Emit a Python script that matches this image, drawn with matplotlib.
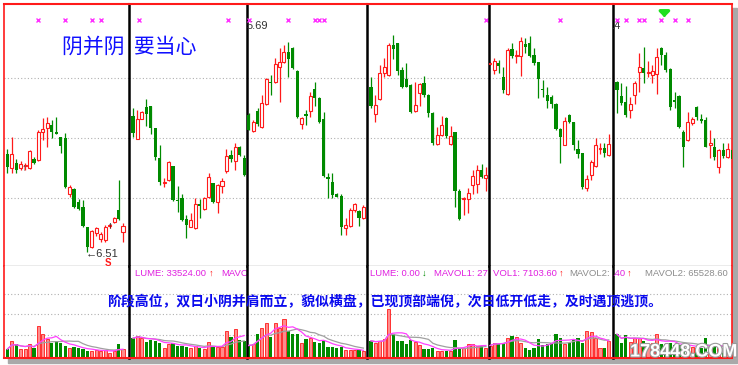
import numpy as np
import pandas as pd
import matplotlib.pyplot as plt
import matplotlib.patheffects as pe
from matplotlib.patches import Rectangle

plt.rcParams['font.family'] = ['Noto Sans CJK SC', 'DejaVu Sans']

o1 = [8.46, 8.32, 8.37, 8.32, 8.34, 8.32, 8.41, 8.40, 8.68, 8.72, 8.75, 8.68, 8.63, 8.62,
      8.06, 8.11, 7.98, 7.93, 7.73, 7.53, 7.67, 7.61, 7.60, 7.74, 7.78, 7.90, 7.68]
h1 = [8.51, 8.63, 8.41, 8.39, 8.37, 8.50, 8.43, 8.70, 8.82, 8.83, 8.80, 8.83, 8.63, 8.67,
      8.15, 8.12, 8.01, 8.00, 7.73, 7.70, 7.73, 7.68, 7.75, 7.76, 7.83, 8.20, 7.77]
l1 = [8.27, 8.27, 8.27, 8.30, 8.30, 8.31, 8.36, 8.39, 8.60, 8.53, 8.62, 8.66, 8.47, 8.12,
      8.03, 7.92, 7.90, 7.73, 7.48, 7.52, 7.64, 7.58, 7.58, 7.72, 7.77, 7.80, 7.58]
c1 = [8.33, 8.46, 8.30, 8.36, 8.35, 8.49, 8.37, 8.68, 8.71, 8.77, 8.68, 8.66, 8.54, 8.13,
      8.13, 7.93, 7.91, 7.74, 7.53, 7.69, 7.72, 7.66, 7.73, 7.74, 7.82, 7.81, 7.74]
v1 = [8.3, 16.7, 13.3, 8.3, 8.3, 13.3, 9.3, 31.7, 24.0, 18.3, 15.0, 16.7, 15.0, 11.7,
      9.3, 10.7, 9.3, 8.3, 6.7, 6.7, 7.3, 6.7, 7.3, 5.0, 6.7, 14.0, 8.3]

o2 = [8.84, 8.61, 8.81, 8.93, 8.94, 8.72, 8.42, 8.17, 8.20, 8.34, 8.00, 8.02, 7.81, 7.73,
      7.72, 7.96, 7.91, 8.03, 8.17, 7.98, 8.14, 8.29, 8.45, 8.39, 8.53, 8.42]
h2 = [8.92, 8.90, 8.89, 9.01, 8.94, 8.72, 8.55, 8.22, 8.39, 8.34, 8.14, 8.06, 7.85, 7.87,
      8.02, 8.01, 8.03, 8.27, 8.17, 8.16, 8.22, 8.51, 8.50, 8.57, 8.54, 8.45]
l2 = [8.63, 8.61, 8.81, 8.74, 8.66, 8.40, 8.15, 8.13, 8.19, 7.99, 7.88, 7.79, 7.62, 7.73,
      7.71, 7.82, 7.90, 8.02, 7.97, 7.87, 8.07, 8.27, 8.38, 8.30, 8.44, 8.24]
c2 = [8.67, 8.81, 8.88, 8.86, 8.72, 8.43, 8.18, 8.18, 8.38, 8.00, 7.99, 7.80, 7.75, 7.80,
      7.96, 7.94, 8.02, 8.23, 7.98, 8.15, 8.19, 8.44, 8.41, 8.53, 8.45, 8.25]
v2 = [19.3, 21.7, 19.3, 16.0, 17.7, 16.7, 15.0, 10.0, 14.0, 15.0, 11.7, 11.7, 10.7, 9.3,
      11.7, 9.3, 8.3, 15.7, 10.7, 10.7, 10.7, 26.7, 20.7, 28.3, 17.3, 16.7]

o3 = [8.85, 8.69, 8.89, 8.73, 8.96, 9.18, 9.18, 9.33, 9.38, 9.48, 9.52, 9.29, 8.76, 8.86,
      8.89, 9.11, 9.02, 8.81, 8.23, 8.18, 8.06, 8.04, 7.72, 7.74, 7.90, 7.89, 7.82]
h3 = [8.87, 8.80, 8.92, 9.05, 9.22, 9.25, 9.42, 9.52, 9.55, 9.58, 9.53, 9.30, 8.83, 8.90,
      9.08, 9.18, 9.03, 8.88, 8.27, 8.27, 8.07, 8.06, 7.82, 7.92, 7.97, 7.90, 7.95]
l3 = [8.70, 8.68, 8.74, 8.72, 8.95, 9.05, 9.17, 8.98, 9.37, 9.23, 9.31, 8.82, 8.71, 8.75,
      8.83, 8.94, 8.77, 8.23, 8.02, 8.02, 8.03, 7.65, 7.65, 7.73, 7.88, 7.74, 7.81]
c3 = [8.70, 8.78, 8.76, 8.97, 9.21, 9.17, 9.36, 9.38, 9.48, 9.41, 9.32, 8.83, 8.82, 8.84,
      9.04, 9.02, 8.78, 8.24, 8.21, 8.05, 8.03, 7.73, 7.75, 7.90, 7.96, 7.82, 7.93]
v3 = [12.0, 13.3, 23.3, 29.3, 35.0, 20.7, 35.0, 30.0, 38.3, 26.7, 23.3, 24.0, 15.0, 18.3,
      20.0, 16.0, 15.0, 16.7, 10.7, 10.7, 9.3, 10.7, 7.3, 7.3, 7.3, 7.3, 6.7]

o4 = [9.13, 8.86, 9.01, 9.27, 9.25, 9.55, 9.57, 9.30, 9.21, 9.15, 8.89, 9.07, 9.17, 9.05,
      8.87, 8.56, 8.65, 8.82, 8.56, 8.68, 8.09, 8.01, 8.01, 8.15, 8.16, 8.30, 8.22]
h4 = [9.23, 9.05, 9.35, 9.42, 9.57, 9.65, 9.57, 9.33, 9.37, 9.16, 9.18, 9.17, 9.24, 9.06,
      8.88, 8.73, 8.84, 8.83, 8.74, 8.68, 8.11, 8.03, 8.12, 8.30, 8.35, 8.36, 8.33]
l4 = [8.92, 8.78, 9.00, 9.23, 9.24, 9.41, 9.25, 9.12, 9.13, 8.87, 8.88, 8.94, 9.03, 8.83,
      8.55, 8.55, 8.64, 8.62, 8.55, 7.93, 7.80, 7.85, 7.87, 8.06, 8.07, 8.22, 8.09]
c4 = [8.94, 8.95, 9.27, 9.33, 9.55, 9.51, 9.29, 9.13, 9.13, 8.88, 8.95, 9.16, 9.05, 8.87,
      8.57, 8.65, 8.75, 8.64, 8.64, 8.09, 7.81, 8.02, 8.07, 8.24, 8.30, 8.23, 8.25]
v4 = [16.7, 15.0, 16.7, 18.3, 48.3, 23.3, 16.7, 16.7, 13.3, 17.7, 16.0, 12.7, 8.3, 8.3,
      9.3, 6.7, 6.7, 6.7, 6.7, 17.7, 9.3, 9.3, 13.3, 13.3, 11.7, 11.7, 10.0]

o5 = [9.36, 9.30, 9.37, 9.23, 9.06, 9.51, 9.44, 9.44, 9.56, 9.57, 9.45, 9.38, 9.11, 9.05,
      9.03, 8.96, 8.71, 8.55, 8.85, 8.78, 8.51, 8.47, 8.12, 8.25, 8.34, 8.51, 8.52, 8.45]
h5 = [9.38, 9.42, 9.40, 9.33, 9.52, 9.57, 9.50, 9.63, 9.62, 9.64, 9.52, 9.38, 9.20, 9.13,
      9.05, 8.97, 8.72, 8.83, 8.86, 8.78, 8.60, 8.47, 8.25, 8.40, 8.62, 8.57, 8.57, 8.66]
l5 = [9.35, 9.26, 9.27, 9.07, 9.05, 9.42, 9.37, 9.24, 9.47, 9.43, 9.35, 9.02, 9.03, 8.92,
      8.92, 8.70, 8.37, 8.55, 8.77, 8.50, 8.42, 8.11, 8.09, 8.20, 8.33, 8.46, 8.43, 8.44]
c5 = [9.37, 9.39, 9.34, 9.10, 9.50, 9.44, 9.45, 9.59, 9.53, 9.44, 9.37, 9.21, 9.10, 8.99,
      8.96, 8.71, 8.63, 8.79, 8.78, 8.55, 8.46, 8.13, 8.21, 8.38, 8.55, 8.52, 8.47, 8.56]
v5 = [12.0, 15.0, 14.0, 15.0, 20.0, 21.7, 20.7, 15.0, 9.3, 7.3, 9.3, 18.3, 12.7, 14.0,
      15.0, 24.0, 20.0, 13.3, 15.0, 18.3, 19.3, 15.0, 26.7, 26.0, 20.0, 9.3, 10.0, 16.7]

o6 = [9.18, 9.04, 8.98, 8.90, 9.05, 9.28, 9.32, 9.27, 9.25, 9.26, 9.52, 9.45, 9.31, 9.00,
      9.04, 8.68, 8.60, 8.77, 8.93, 8.81, 8.80, 8.55, 8.53, 8.33, 8.50, 8.43, 8.50]
h6 = [9.19, 9.17, 9.14, 9.03, 9.19, 9.47, 9.53, 9.39, 9.35, 9.52, 9.53, 9.48, 9.32, 9.08,
      9.05, 8.70, 8.88, 8.83, 8.94, 8.86, 8.83, 8.70, 8.62, 8.51, 8.57, 8.57, 8.52]
l6 = [8.87, 8.95, 8.83, 8.82, 8.96, 9.08, 9.17, 9.23, 9.17, 9.06, 9.35, 9.28, 8.90, 8.92,
      8.72, 8.33, 8.59, 8.75, 8.80, 8.77, 8.53, 8.42, 8.40, 8.27, 8.42, 8.42, 8.32]
c6 = [9.10, 8.97, 8.85, 8.96, 9.17, 9.33, 9.27, 9.28, 9.29, 9.43, 9.45, 9.30, 8.93, 8.98,
      8.73, 8.53, 8.78, 8.81, 8.83, 8.79, 8.53, 8.57, 8.43, 8.50, 8.44, 8.51, 8.41]
v6 = [23.3, 15.0, 22.7, 16.0, 20.0, 20.0, 16.7, 14.0, 15.0, 24.0, 14.0, 14.0, 15.0, 12.7,
      12.7, 11.7, 11.7, 10.7, 9.3, 9.3, 20.0, 9.3, 10.7, 9.3, 8.3, 7.3, 8.0]

# signal marks on the top row (candle index)
marks = [[7, 13, 19, 21], [1.3, 21.3], [0, 9, 15, 16, 17], [26], [16], [0, 2, 5, 6, 10, 13, 16]]
price_grid = [9.22, 8.62, 8.02]
vol_grid = [22.5, 43.5, 64.0]

title_txt = '阴并阴  要当心'
note_txt = '阶段高位，双日小阴并肩而立，貌似横盘，已现顶部端倪，次日低开低走，及时遇顶逃顶。'

# ---- layout (pixels of the 738x365 picture) ----
W, H = 738, 365
TOP, MID, BOT = 4, 266, 357.5
PANELS = [(4, 129, 7.3, 4.45), (129, 247, 133, 4.45), (247, 367, 248.7, 4.41),
          (367, 489, 371, 4.42), (489, 613, 490, 4.40), (613, 732, 617, 4.43)]
RED, GREEN, MAG, GRAY = '#ff1a1a', '#008a00', '#e020e0', '#8c8c8c'
NUM_FONT = ['Liberation Sans', 'DejaVu Sans']

fig = plt.figure(figsize=(W / 100, H / 100), dpi=100)
fig.add_artist(Rectangle((8 / W, 1 - 363 / H), 729 / W, 355 / H,
                         transform=fig.transFigure, color='#a9a9a9', zorder=-5))


def px_axes(x0, y0, x1, y1):
    return fig.add_axes([x0 / W, 1 - y1 / H, (x1 - x0) / W, (y1 - y0) / H])


def at(ax, x, y):
    b = ax.get_position()
    return (x / W - b.x0) / b.width, (1 - y / H - b.y0) / b.height


def label(ax, x, y, s, color, size=6.8, ha='left', **kw):
    ax.text(*at(ax, x, y), s, transform=ax.transAxes, color=color, fontsize=size,
            ha=ha, va='center', clip_on=True, family=NUM_FONT, **kw)


def style(ax, k, part):
    ax.set_xticks([])
    ax.set_yticks([])
    for s in ax.spines.values():
        s.set_visible(False)
    ax.spines['left'].set_visible(True)
    ax.spines['left'].set_color(RED if k == 0 else 'black')
    ax.spines['left'].set_linewidth(1.2 if k == 0 else 1.8)
    if k == 5:
        ax.spines['right'].set_visible(True)
        ax.spines['right'].set_color(RED)
        ax.spines['right'].set_linewidth(1.2)
    if part == 'price':
        ax.spines['top'].set_visible(True)
        ax.spines['top'].set_color(RED)
        ax.spines['top'].set_linewidth(1.5)
        ax.spines['bottom'].set_visible(True)
        ax.spines['bottom'].set_color('#9a9a9a')
        ax.spines['bottom'].set_linewidth(1.0)
    else:
        ax.spines['bottom'].set_visible(True)
        ax.spines['bottom'].set_color(RED)
        ax.spines['bottom'].set_linewidth(1.5)


data = [(o1, h1, l1, c1, v1), (o2, h2, l2, c2, v2), (o3, h3, l3, c3, v3),
        (o4, h4, l4, c4, v4), (o5, h5, l5, c5, v5), (o6, h6, l6, c6, v6)]

axes_p, axes_v = [], []
for k, ((left, right, first, step), (o, h, l, c, v)) in enumerate(zip(PANELS, data)):
    o, h, l, c, v = map(np.asarray, (o, h, l, c, v))
    x = np.arange(len(o))
    up = c >= o
    xlim = ((left - first) / step, (right - first) / step)

    axp = px_axes(left, TOP, right, MID)
    axp.set_xlim(xlim)
    axp.set_ylim(7.34, 9.96)
    for g in price_grid:
        axp.axhline(g, color='#b0b0b0', lw=0.8, ls=(0, (1, 2)), zorder=1)
    axp.vlines(x, l, h, colors=np.where(up, RED, GREEN), lw=0.9, zorder=2)
    body = np.maximum(np.abs(c - o), 0.012)
    axp.bar(x[up], body[up], bottom=np.minimum(o, c)[up], width=0.68,
            facecolor='white', edgecolor=RED, lw=0.8, zorder=3)
    axp.bar(x[~up], body[~up], bottom=np.minimum(o, c)[~up], width=0.72,
            color=GREEN, lw=0, zorder=3)
    axp.plot(marks[k], [9.80] * len(marks[k]), ls='none', marker='x', ms=3.2,
             mew=1.0, color='#ff30ff', zorder=4, clip_on=True)
    style(axp, k, 'price')

    axv = px_axes(left, MID, right, BOT)
    axv.set_xlim(xlim)
    axv.set_ylim(0, BOT - MID)
    for g in vol_grid:
        axv.axhline(g, color='#b0b0b0', lw=0.8, ls=(0, (1, 2)), zorder=1)
    axv.bar(x[up], v[up], width=0.7, facecolor='#ff8c8c', edgecolor=RED, lw=0.6, zorder=2)
    axv.bar(x[~up], v[~up], width=0.72, color=GREEN, lw=0, zorder=2)
    vs = pd.Series(v)
    axv.plot(x, vs.rolling(10, min_periods=1).mean(), color='#a0a0a0', lw=0.9, zorder=3)
    axv.plot(x, vs.rolling(5, min_periods=1).mean(), color='#ff40ff', lw=0.9, zorder=3)
    style(axv, k, 'vol')

    axes_p.append(axp)
    axes_v.append(axv)

# small labels inside the panels
label(axes_p[0], 24.5, 168, '↑', '#555555', size=7, ha='center')
label(axes_p[0], 110, 226, '↑', 'black', size=7, ha='center')
label(axes_p[0], 86, 254, '←6.51', '#333333', size=8)
label(axes_p[0], 108, 263, 'S', RED, size=7, ha='center', weight='bold')
label(axes_p[2], 247, 26, '5.69', '#333333', size=8)
label(axes_p[5], 620, 26, '14', '#333333', size=8, ha='right')
axes_p[5].annotate('', xy=(10.7, 9.80), xytext=(10.7, 9.90),
                   arrowprops=dict(arrowstyle='-|>,head_width=0.3,head_length=0.3',
                                   color='#20e020', lw=2.4, mutation_scale=10))

# volume headers (only the parts that show inside each window)
label(axes_v[1], 206, 273, 'LUME: 33524.00', MAG, ha='right')
label(axes_v[1], 211, 273, '↑', RED, ha='center')
label(axes_v[1], 221, 273, 'MAVO', MAG)
label(axes_v[3], 420, 273, 'LUME: 0.00', MAG, ha='right')
label(axes_v[3], 424, 273, '↓', GREEN, ha='center')
label(axes_v[3], 434, 273, 'MAVOL1: 27', MAG)
label(axes_v[4], 557, 273, 'VOL1: 7103.60', MAG, ha='right')
label(axes_v[4], 561, 273, '↑', RED, ha='center')
label(axes_v[4], 569, 273, 'MAVOL2:', GRAY)
label(axes_v[5], 625, 273, '.40', MAG, ha='right')
label(axes_v[5], 629, 273, '↑', RED, ha='center')
label(axes_v[5], 645, 273, 'MAVOL2: 65528.60', GRAY)

# captions
fig.text(62 / W, 1 - 47 / H, title_txt, color='#1010ff', fontsize=15, va='center')
fig.text(107 / W, 1 - 302 / H, note_txt, color='#0a0aee', fontsize=10,
         weight='bold', va='center')
fig.text(630 / W, 1 - 352 / H, '178448.COM', color='white', fontsize=13,
         weight='bold', va='center', family=NUM_FONT,
         path_effects=[pe.withStroke(linewidth=1.6, foreground='#9a9a9a')])

fig.savefig('out.png', dpi=100)
